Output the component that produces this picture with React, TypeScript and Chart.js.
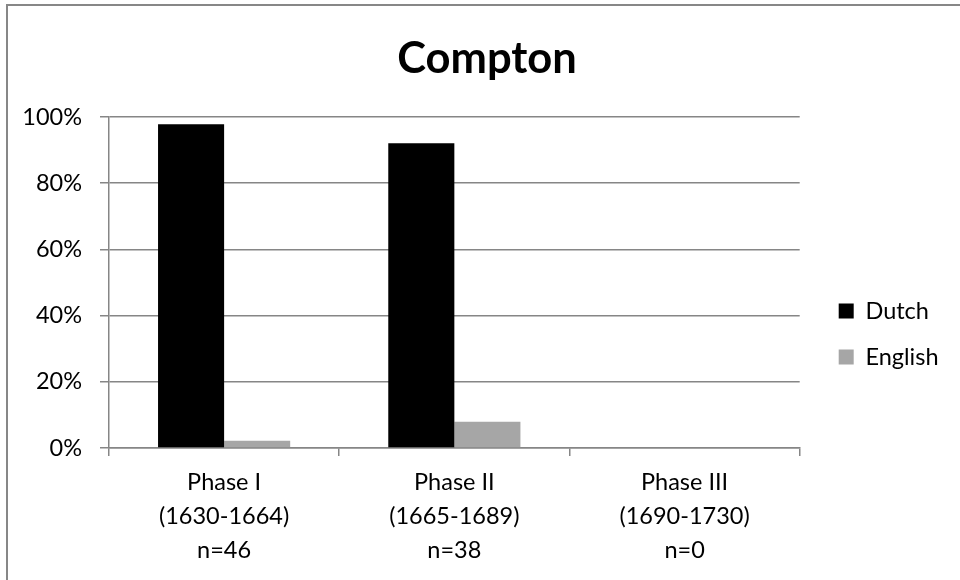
import React, { useEffect, useRef } from "react";
import { Chart, registerables } from "chart.js";

Chart.register(...registerables);

const chartTitle = "Compton";
const categories: string[][] = [
  ["Phase I", "(1630-1664)", "n=46"],
  ["Phase II", "(1665-1689)", "n=38"],
  ["Phase III", "(1690-1730)", "n=0"],
];
const dutchValues = [97.8, 92.1, 0];
const englishValues = [2.2, 7.9, 0];
const yTicks = [0, 20, 40, 60, 80, 100];

const GRID = "#868686";
const FONT = "Lato, 'Open Sans', sans-serif";

export default function App() {
  const ref = useRef<HTMLCanvasElement | null>(null);

  useEffect(() => {
    document.body.style.margin = "0";
    const canvas = ref.current;
    if (!canvas) return;

    const boxShift = {
      id: "boxShift",
      afterLayout(chart: any) {
        const l = chart.legend;
        if (l) {
          l.left += 16.5;
          l.right += 16.5;
          l.top += 44;
          l.bottom += 44;
        }
        const t = chart.titleBlock;
        if (t) {
          t.left += 16;
          t.right += 16;
        }
      },
    };

    const chart = new Chart(canvas, {
      type: "bar",
      data: {
        labels: categories,
        datasets: [
          {
            label: "Dutch",
            data: dutchValues,
            backgroundColor: "#000000",
            borderWidth: 0,
          },
          {
            label: "English",
            data: englishValues,
            backgroundColor: "#A6A6A6",
            borderWidth: 0,
          },
        ],
      },
      options: {
        responsive: false,
        animation: false,
        layout: { padding: { left: 10, right: 28, top: 0, bottom: 0 } },
        datasets: {
          bar: { categoryPercentage: 0.574, barPercentage: 1 },
        },
        plugins: {
          title: {
            display: true,
            text: chartTitle,
            color: "#000",
            font: { family: FONT, size: 43.5, weight: "bold", lineHeight: 1.2 },
            padding: { top: 33, bottom: 31.8 },
          },
          legend: {
            position: "right",
            align: "center",
            labels: {
              boxWidth: 15,
              boxHeight: 15,
              padding: 22.5,
              color: "#000",
              font: { family: FONT, size: 23.5 },
            },
          },
          tooltip: { enabled: false },
        },
        scales: {
          x: {
            offset: true,
            grid: {
              offset: true,
              drawOnChartArea: false,
              drawTicks: true,
              tickLength: 8,
              color: GRID,
              lineWidth: 1.5,
            },
            border: { display: true, color: GRID, width: 1.5 },
            ticks: {
              color: "#000",
              padding: 10,
              maxRotation: 0,
              autoSkip: false,
              font: { family: FONT, size: 23.5, lineHeight: 1.43 },
            },
            afterFit: (s: any) => {
              s.height = 132;
            },
          },
          y: {
            min: 0,
            max: 100,
            afterBuildTicks: (s: any) => {
              s.ticks = yTicks.map((v) => ({ value: v }));
            },
            grid: {
              color: GRID,
              lineWidth: 1.5,
              tickLength: 9,
            },
            border: { display: true, color: GRID, width: 1.5 },
            ticks: {
              color: "#000",
              padding: 18,
              font: { family: FONT, size: 23.5 },
              callback: (v: any) => `${v}%`,
            },
            afterFit: (s: any) => {
              s.width = 99;
            },
          },
        },
      },
      plugins: [boxShift],
    });

    return () => chart.destroy();
  }, []);

  return (
    <div
      style={{
        position: "relative",
        width: 960,
        height: 580,
        overflow: "hidden",
        background: "#fff",
      }}
    >
      <canvas
        ref={ref}
        width={960}
        height={580}
        style={{ position: "absolute", left: 0, top: 0, width: 960, height: 580 }}
      />
      <div
        style={{
          position: "absolute",
          left: 6,
          top: 4,
          width: 1000,
          height: 1000,
          borderLeft: "2px solid #878787",
          borderTop: "2px solid #878787",
          pointerEvents: "none",
        }}
      />
    </div>
  );
}
